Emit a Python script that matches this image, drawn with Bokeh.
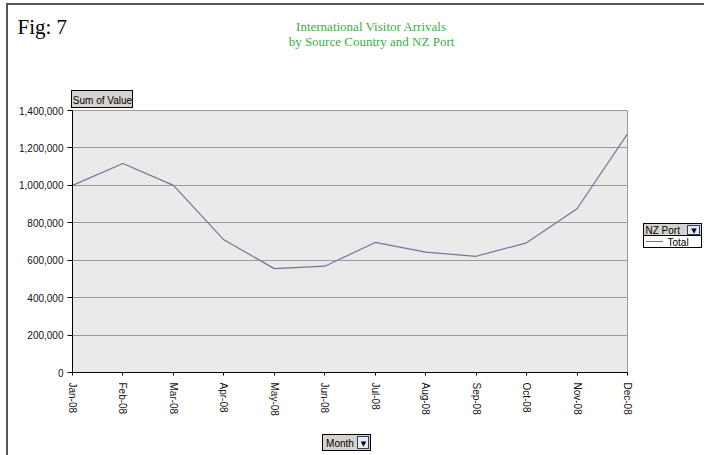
import math
from bokeh.plotting import figure
from bokeh.models import (Range1d, FixedTicker, NumeralTickFormatter, Label)
from bokeh.embed import file_html
from bokeh.resources import INLINE

# ---- data ----
months = ["Jan-08", "Feb-08", "Mar-08", "Apr-08", "May-08", "Jun-08",
          "Jul-08", "Aug-08", "Sep-08", "Oct-08", "Nov-08", "Dec-08"]
totals = [1000000, 1117000, 1000000, 709000, 555000, 568000,
          695000, 643000, 621000, 693000, 875000, 1275000]
y_ticks = [0, 200000, 400000, 600000, 800000, 1000000, 1200000, 1400000]
series_name = "Total"
legend_title = "NZ Port"
value_field = "Sum of Value"
category_field = "Month"
fig_label = "Fig: 7"
title_lines = ["International Visitor Arrivals", "by Source Country and NZ Port"]

x_pos = list(range(len(months)))

W, H = 704, 455
FL, FR, FT, FB = 72, 627, 110, 372  # plot frame edges in canvas pixels
LINE_COLOR = "#75759a"


def rect(x, y, w, h, color):
    return f"linear-gradient({color},{color}) {x}px {y}px / {w}px {h}px no-repeat"


def button(x, y, w, h, fill, edge="#000000"):
    return [rect(x + 1, y + 1, w - 2, h - 2, fill), rect(x, y, w, h, edge)]


LX0, LY0, LW, LH = 643, 223, 59, 25
HEAD = 12
layers = []
# legend: line sample, dropdown, header, body
layers += [rect(LX0 + 3, LY0 + HEAD + 6, 17, 1, LINE_COLOR)]
layers += button(LX0 + LW - 15, LY0 + 2, 13, 10, "#e6eaf2", "#2a3f66")
layers += [rect(LX0 + 1, LY0 + 1, LW - 2, HEAD - 1, "#d6d3ce"),
           rect(LX0 + 1, LY0 + HEAD + 1, LW - 2, LH - HEAD - 2, "#ffffff"),
           rect(LX0, LY0, LW, LH, "#000000")]
# Month button with dropdown
layers += button(357, 436, 12, 13, "#e6eaf2", "#2a3f66")
layers += button(322, 434, 49, 17, "#d6d3ce")
# Sum of Value button
layers += button(71, 90, 62, 18, "#d6d3ce")
# page frame lines
layers += [rect(6, 3, 2, 452, "#555555"), rect(6, 3, 698, 2, "#555555")]
background = ", ".join(layers) + ", #ffffff"

p = figure(width=W, height=H, output_backend="svg", toolbar_location=None, title=None,
           x_range=Range1d(0, len(months) - 1), y_range=Range1d(0, y_ticks[-1]),
           min_border_left=FL, min_border_right=W - FR, min_border_top=FT,
           min_border_bottom=H - FB)
p.styles = {"background": background}

p.background_fill_color = "#eaeaea"
p.border_fill_color = None
p.outline_line_color = "#9a9a9a"
p.xgrid.visible = False
p.ygrid.grid_line_color = "#9a9a9a"
p.ygrid.grid_line_width = 1

p.xaxis.ticker = FixedTicker(ticks=x_pos)
p.xaxis.major_label_overrides = {i: m for i, m in enumerate(months)}
p.xaxis.major_label_orientation = -math.pi / 2
p.yaxis.ticker = FixedTicker(ticks=y_ticks)
p.yaxis.formatter = NumeralTickFormatter(format="0,0")

for ax in (p.xaxis[0], p.yaxis[0]):
    ax.axis_line_color = "black"
    ax.axis_line_width = 1
    ax.major_tick_line_color = "black"
    ax.major_tick_in = 0
    ax.minor_tick_line_color = None
    ax.major_label_text_font = "Liberation Sans"
    ax.major_label_text_font_size = "10px"
    ax.major_label_text_color = "#111111"
p.xaxis.major_tick_out = 3
p.xaxis.major_label_standoff = 7
p.yaxis.major_tick_out = 5
p.yaxis.major_label_standoff = 4

r = p.line(x_pos, totals, line_color=LINE_COLOR, line_width=1.2)


def clabel(x, y, text, font="Liberation Sans", size="10px", color="black",
           align="left", baseline="middle"):
    return Label(x=x, y=y, x_units="canvas", y_units="canvas", text=text,
                 text_font=font, text_font_size=size, text_color=color,
                 text_align=align, text_baseline=baseline)


# figure label + title (in the panel above the frame, so they are not clipped)
p.add_layout(clabel(17, 26, fig_label, font="Liberation Serif", size="21px",
                    baseline="alphabetic"), "above")
p.add_layout(clabel(371, 25.5, title_lines[0], font="Liberation Serif", size="13px",
                    color="#3aae48", align="center", baseline="alphabetic"), "above")
p.add_layout(clabel(371, 40.5, title_lines[1], font="Liberation Serif", size="13px",
                    color="#3aae48", align="center", baseline="alphabetic"), "above")
p.add_layout(clabel(102, 99.5, value_field, align="center"), "above")

# legend texts
p.add_layout(clabel(LX0 + 2, LY0 + 6.5, legend_title), "above")
p.add_layout(clabel(LX0 + LW - 8.5, LY0 + 7.5, "\u25bc", font="DejaVu Sans", size="7px",
                    align="center"), "above")
p.add_layout(clabel(LX0 + 24, LY0 + HEAD + 6.5, series_name), "above")

# Month button texts
p.add_layout(clabel(339.5, 442.5, category_field, align="center"), "below")
p.add_layout(clabel(363, 443, "\u25bc", font="DejaVu Sans", size="7px", align="center"),
             "below")

open("out.html", "w").write(file_html(p, INLINE))
